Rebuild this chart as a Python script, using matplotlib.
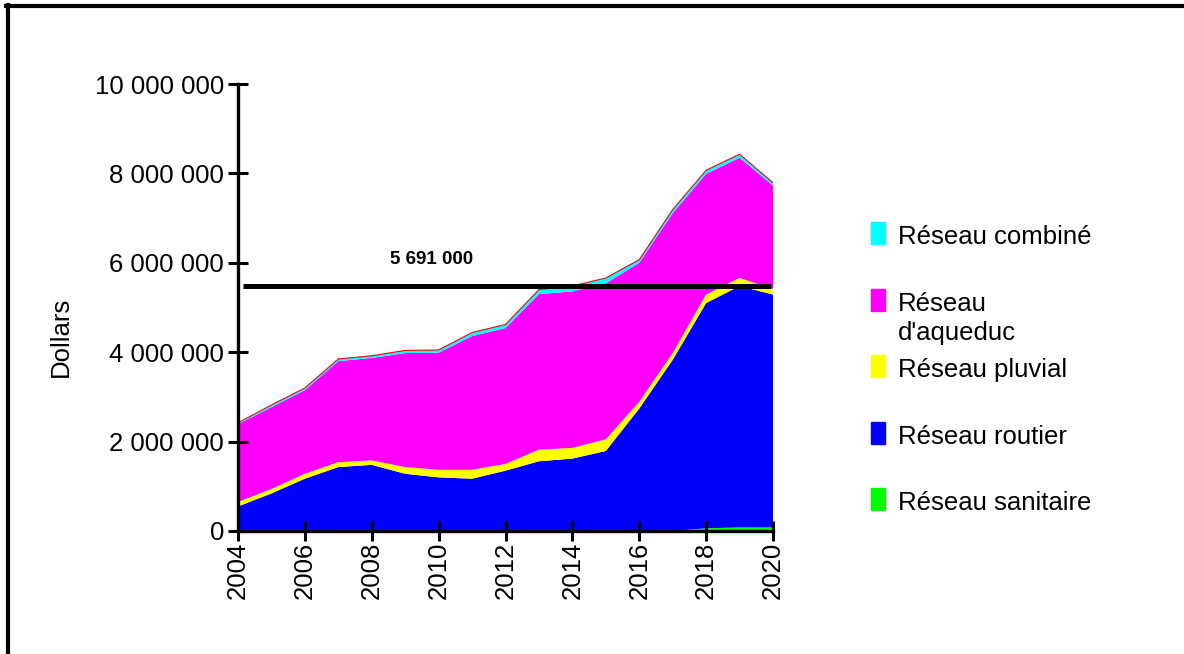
import numpy as np
import matplotlib.pyplot as plt
from matplotlib.lines import Line2D
from matplotlib.patches import Rectangle
from matplotlib.ticker import FuncFormatter

# --- Données (en dollars) ---
annees = list(range(2004, 2021))
sanitaire = [0, 0, 0, 0, 0, 0, 0, 0, 0, 0, 0, 0, 0, 0, 60000, 80000, 80000]
routier = [550000, 840000, 1170000, 1430000, 1480000, 1280000, 1200000, 1170000, 1350000,
           1560000, 1620000, 1790000, 2740000, 3830000, 5040000, 5400000, 5210000]
pluvial = [100000, 100000, 110000, 110000, 100000, 150000, 170000, 200000, 150000,
           260000, 240000, 260000, 150000, 150000, 190000, 180000, 130000]
aqueduc = [1740000, 1830000, 1870000, 2260000, 2290000, 2550000, 2620000, 2990000, 3040000,
           3480000, 3500000, 3490000, 3110000, 3130000, 2700000, 2690000, 2310000]
combine = [30000, 50000, 50000, 50000, 50000, 60000, 60000, 80000, 80000,
           100000, 120000, 120000, 70000, 80000, 80000, 80000, 60000]

moyenne_label = "5 691 000"
moyenne_niveau = 5480000

series = [sanitaire, routier, pluvial, aqueduc, combine]
couleurs = ['#00ff00', '#0000ff', '#ffff00', '#ff00ff', '#00ffff']
etiquettes = ['Réseau combiné', "Réseau\nd'aqueduc", 'Réseau pluvial',
              'Réseau routier', 'Réseau sanitaire']
couleurs_legende = ['#00ffff', '#ff00ff', '#ffff00', '#0000ff', '#00ff00']

plt.rcParams['font.family'] = ['Liberation Sans', 'DejaVu Sans']

fig = plt.figure(figsize=(11.84, 6.54), dpi=100)
ax = fig.add_axes([238 / 1184, 123 / 654, 535 / 1184, 447 / 654])

ax.stackplot(annees, *series, colors=couleurs, linewidth=0)
total = np.sum(series, axis=0)
ax.plot(annees, total, color='red', lw=0.8)

# ligne horizontale + étiquette
ax.hlines(moyenne_niveau, 2004.15, 2019.95, color='black', lw=3.6, zorder=5)
ax.text(2009.8, moyenne_niveau + 400000, moyenne_label, ha='center', va='bottom',
        fontsize=13.5, fontweight='bold', zorder=6)

ax.set_xlim(2004, 2020)
ax.set_ylim(0, 10000000)
ax.set_xticks(range(2004, 2021, 2))
ax.set_yticks(range(0, 10000001, 2000000))
ax.yaxis.set_major_formatter(FuncFormatter(lambda v, p: f"{int(v):,}".replace(',', ' ')))
for lab in ax.get_xticklabels():
    lab.set_rotation(90)

ax.tick_params(axis='both', direction='inout', length=14, width=2.2, labelsize=18.5, pad=3)
ax.tick_params(axis='x', pad=1)
for s in ['top', 'right']:
    ax.spines[s].set_visible(False)
for s in ['left', 'bottom']:
    ax.spines[s].set_linewidth(2.4)
ax.set_ylabel('Dollars', fontsize=18.5)
ax.yaxis.set_label_coords(-0.308, 0.435)

# légende manuelle
y0 = 1 - 222 / 654
pas = 66.6 / 654
for i, (lab, c) in enumerate(zip(etiquettes, couleurs_legende)):
    y = y0 - i * pas
    fig.patches.append(Rectangle((871 / 1184, y - 22 / 654), 14 / 1184, 22 / 654,
                                 transform=fig.transFigure, color=c))
    fig.text(898 / 1184, y - 3 / 654, lab, fontsize=18.5, va='top', ha='left',
             linespacing=1.3)

# cadre
fig.add_artist(Line2D([8 / 1184, 8 / 1184], [0, 1 - 5 / 654], color='black', lw=3,
                      transform=fig.transFigure))
fig.add_artist(Line2D([6 / 1184, 1], [1 - 5.5 / 654, 1 - 5.5 / 654], color='black', lw=3,
                      transform=fig.transFigure))

fig.savefig('out.png', dpi=100)
